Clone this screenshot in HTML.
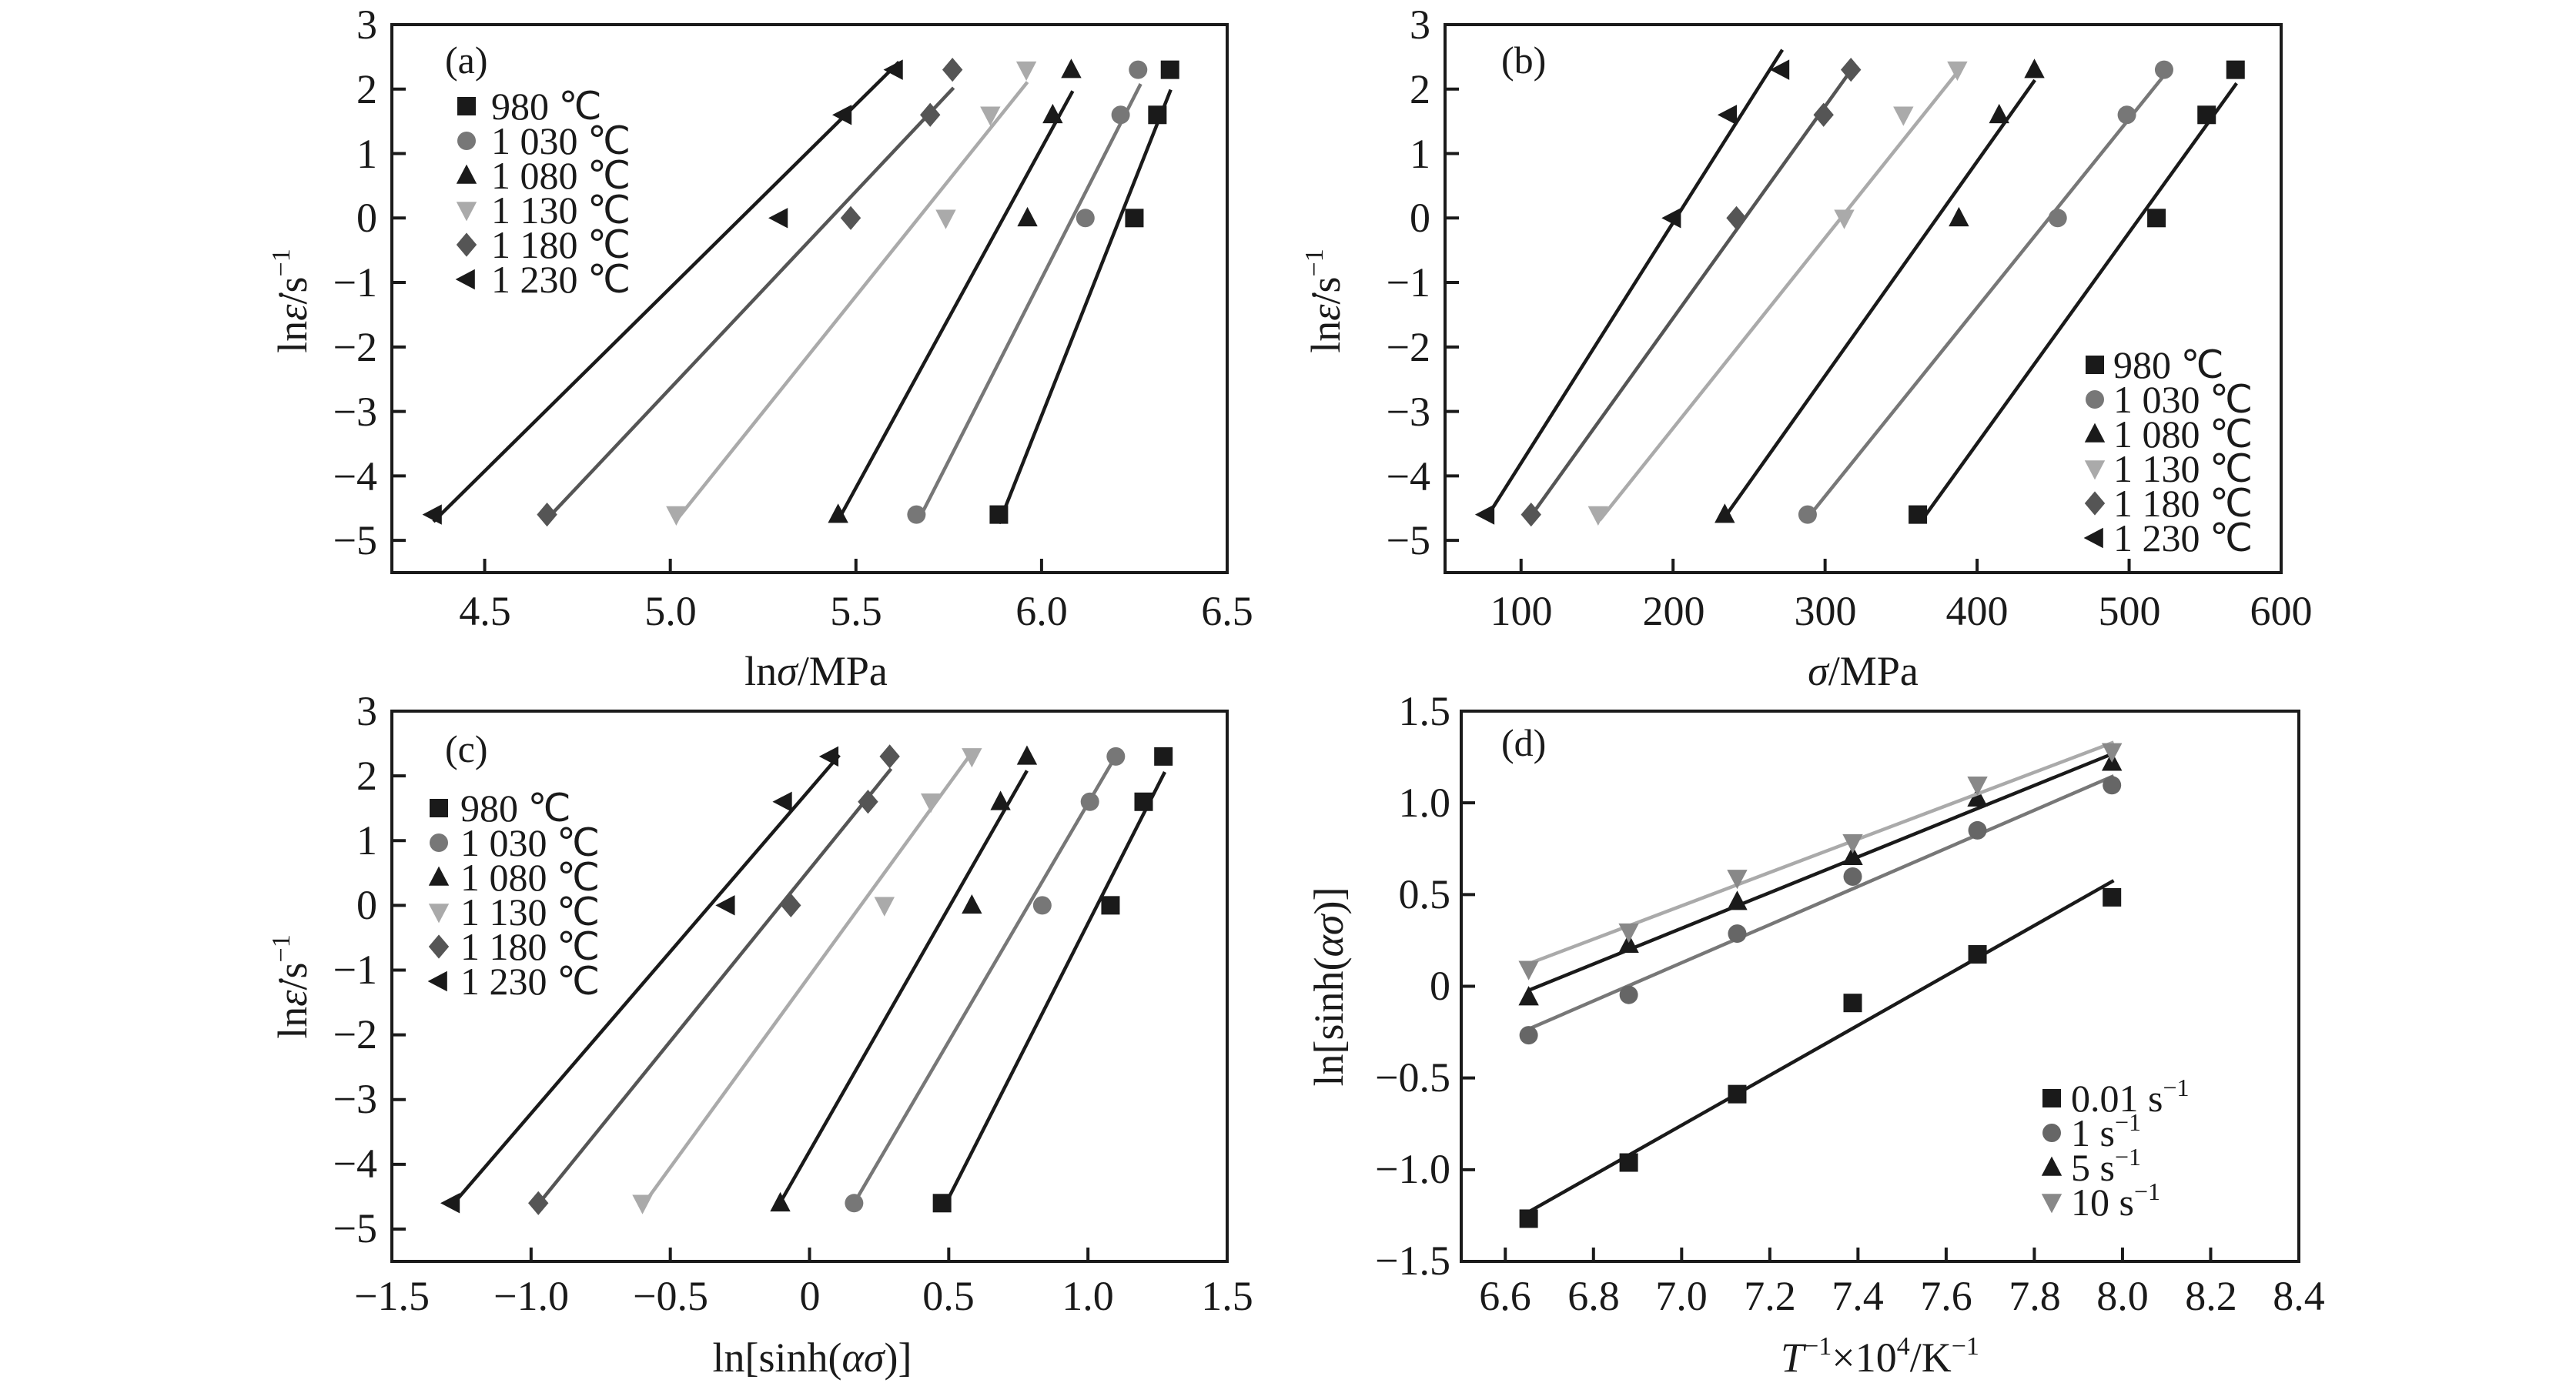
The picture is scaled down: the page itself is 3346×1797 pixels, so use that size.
<!DOCTYPE html>
<html><head><meta charset="utf-8"><style>
html,body{margin:0;padding:0;background:#fff}
svg{display:block}
text{font-family:"Liberation Serif",serif;fill:#1a1a1a}
.t{font-size:54px}
.l{font-size:50px}
.a{font-size:54px}
</style></head><body>
<svg id="s" width="3346" height="1797" viewBox="0 0 3346 1797" xmlns="http://www.w3.org/2000/svg">
<rect width="3346" height="1797" fill="#fff"/>
<g id="plots"></g>
<!-- Panel a text -->
<g class="t" text-anchor="end">
<text x="490" y="50">3</text><text x="490" y="134">2</text><text x="490" y="218">1</text><text x="490" y="301">0</text><text x="490" y="385">−1</text><text x="490" y="469">−2</text><text x="490" y="553">−3</text><text x="490" y="637">−4</text><text x="490" y="720">−5</text>
</g>
<g class="t" text-anchor="middle">
<text x="630" y="812">4.5</text><text x="871" y="812">5.0</text><text x="1112" y="812">5.5</text><text x="1353" y="812">6.0</text><text x="1594" y="812">6.5</text>
<text class="a" x="1060" y="890">ln<tspan font-style="italic">σ</tspan>/MPa</text>
</g>
<text class="a" transform="translate(398,391) rotate(-90)" text-anchor="middle">ln<tspan font-style="italic">ε̇</tspan>/s<tspan font-size="34" dy="-22">−1</tspan></text>
<text class="l" x="578" y="95">(a)</text>
<g class="l">
<text x="638" y="155">980 ℃</text><text x="638" y="200">1 030 ℃</text><text x="638" y="245">1 080 ℃</text><text x="638" y="290">1 130 ℃</text><text x="638" y="335">1 180 ℃</text><text x="638" y="380">1 230 ℃</text>
</g>
<!-- Panel b text -->
<g class="t" text-anchor="end">
<text x="1858" y="50">3</text><text x="1858" y="134">2</text><text x="1858" y="218">1</text><text x="1858" y="301">0</text><text x="1858" y="385">−1</text><text x="1858" y="469">−2</text><text x="1858" y="553">−3</text><text x="1858" y="637">−4</text><text x="1858" y="720">−5</text>
</g>
<g class="t" text-anchor="middle">
<text x="1976" y="812">100</text><text x="2174" y="812">200</text><text x="2371" y="812">300</text><text x="2568" y="812">400</text><text x="2766" y="812">500</text><text x="2963" y="812">600</text>
<text class="a" x="2420" y="890"><tspan font-style="italic">σ</tspan>/MPa</text>
</g>
<text class="a" transform="translate(1740,391) rotate(-90)" text-anchor="middle">ln<tspan font-style="italic">ε̇</tspan>/s<tspan font-size="34" dy="-22">−1</tspan></text>
<text class="l" x="1950" y="95">(b)</text>
<g class="l">
<text x="2745" y="491">980 ℃</text><text x="2745" y="536">1 030 ℃</text><text x="2745" y="581">1 080 ℃</text><text x="2745" y="626">1 130 ℃</text><text x="2745" y="671">1 180 ℃</text><text x="2745" y="716">1 230 ℃</text>
</g>
<!-- Panel c text -->
<g class="t" text-anchor="end">
<text x="490" y="942">3</text><text x="490" y="1026">2</text><text x="490" y="1110">1</text><text x="490" y="1194">0</text><text x="490" y="1278">−1</text><text x="490" y="1362">−2</text><text x="490" y="1446">−3</text><text x="490" y="1530">−4</text><text x="490" y="1614">−5</text>
</g>
<g class="t" text-anchor="middle">
<text x="509" y="1702">−1.5</text><text x="690" y="1702">−1.0</text><text x="871" y="1702">−0.5</text><text x="1052" y="1702">0</text><text x="1232" y="1702">0.5</text><text x="1413" y="1702">1.0</text><text x="1594" y="1702">1.5</text>
<text class="a" x="1055" y="1782">ln[sinh(<tspan font-style="italic">ασ</tspan>)]</text>
</g>
<text class="a" transform="translate(398,1282) rotate(-90)" text-anchor="middle">ln<tspan font-style="italic">ε̇</tspan>/s<tspan font-size="34" dy="-22">−1</tspan></text>
<text class="l" x="578" y="990">(c)</text>
<g class="l">
<text x="598" y="1067">980 ℃</text><text x="598" y="1112">1 030 ℃</text><text x="598" y="1157">1 080 ℃</text><text x="598" y="1202">1 130 ℃</text><text x="598" y="1247">1 180 ℃</text><text x="598" y="1292">1 230 ℃</text>
</g>
<!-- Panel d text -->
<g class="t" text-anchor="end">
<text x="1884" y="942">1.5</text><text x="1884" y="1061">1.0</text><text x="1884" y="1180">0.5</text><text x="1884" y="1299">0</text><text x="1884" y="1418">−0.5</text><text x="1884" y="1537">−1.0</text><text x="1884" y="1656">−1.5</text>
</g>
<g class="t" text-anchor="middle">
<text x="1955" y="1702">6.6</text><text x="2070" y="1702">6.8</text><text x="2184" y="1702">7.0</text><text x="2299" y="1702">7.2</text><text x="2413" y="1702">7.4</text><text x="2528" y="1702">7.6</text><text x="2643" y="1702">7.8</text><text x="2757" y="1702">8.0</text><text x="2872" y="1702">8.2</text><text x="2986" y="1702">8.4</text>
<text class="a" x="2442" y="1782"><tspan font-style="italic">T</tspan><tspan font-size="34" dy="-22">−1</tspan><tspan dy="22">×10</tspan><tspan font-size="34" dy="-22">4</tspan><tspan dy="22">/K</tspan><tspan font-size="34" dy="-22">−1</tspan></text>
</g>
<text class="a" transform="translate(1744,1282) rotate(-90)" text-anchor="middle">ln[sinh(<tspan font-style="italic">ασ</tspan>)]</text>
<text class="l" x="1950" y="982">(d)</text>
<g class="l">
<text x="2690" y="1444">0.01 s<tspan font-size="32" dy="-20">−1</tspan></text><text x="2690" y="1489">1 s<tspan font-size="32" dy="-20">−1</tspan></text><text x="2690" y="1534">5 s<tspan font-size="32" dy="-20">−1</tspan></text><text x="2690" y="1579">10 s<tspan font-size="32" dy="-20">−1</tspan></text>
</g>
</svg>
<script>
(function(){
var NS="http://www.w3.org/2000/svg",G=document.getElementById("plots");
function el(n,a){var e=document.createElementNS(NS,n);for(var k in a)e.setAttribute(k,a[k]);G.appendChild(e);return e;}
function marker(t,x,y,c,s){s=s||12;
 if(t=="sq")el("rect",{x:x-s,y:y-s,width:2*s,height:2*s,fill:c});
 else if(t=="ci")el("circle",{cx:x,cy:y,r:s,fill:c});
 else if(t=="up")el("polygon",{points:(x)+","+(y-s*1.2)+" "+(x-s*1.1)+","+(y+s*0.9)+" "+(x+s*1.1)+","+(y+s*0.9),fill:c});
 else if(t=="dn")el("polygon",{points:(x)+","+(y+s*1.2)+" "+(x-s*1.1)+","+(y-s*0.9)+" "+(x+s*1.1)+","+(y-s*0.9),fill:c});
 else if(t=="di")el("polygon",{points:x+","+(y-s*1.3)+" "+(x+s*1.1)+","+y+" "+x+","+(y+s*1.3)+" "+(x-s*1.1)+","+y,fill:c});
 else if(t=="le")el("polygon",{points:(x-s*1.2)+","+y+" "+(x+s*0.9)+","+(y-s*1.1)+" "+(x+s*0.9)+","+(y+s*1.1),fill:c});
}
function panel(P){
 var X=function(v){return P.px[0]+(v-P.x[0])/(P.x[1]-P.x[0])*(P.px[1]-P.px[0]);};
 var Y=function(v){return P.py[1]-(v-P.y[0])/(P.y[1]-P.y[0])*(P.py[1]-P.py[0]);};
 P.xt.forEach(function(v){var x=X(v);el("line",{x1:x,x2:x,y1:P.py[1],y2:P.py[1]-18,stroke:"#1a1a1a","stroke-width":4});});
 P.yt.forEach(function(v){var y=Y(v);el("line",{x1:P.px[0],x2:P.px[0]+18,y1:y,y2:y,stroke:"#1a1a1a","stroke-width":4});});
 P.s.forEach(function(s){
  el("line",{x1:X(s.l[0]),y1:Y(s.l[1]),x2:X(s.l[2]),y2:Y(s.l[3]),stroke:s.lc,"stroke-width":4.5});
  s.p.forEach(function(p){marker(s.m,X(p[0]),Y(p[1]),s.mc);});
 });
 el("rect",{x:P.px[0],y:P.py[0],width:P.px[1]-P.px[0],height:P.py[1]-P.py[0],fill:"none",stroke:"#1a1a1a","stroke-width":4});
 P.s.forEach(function(s,i){marker(s.m,P.lg[0],P.lg[1]+P.lg[2]*i,s.mc);});
}
var ys=[2.30,1.60,0,-4.6];
function mk(xs){return xs.map(function(x,i){return [x,ys[i]];});}
var M=["sq","ci","up","dn","di","le"],C=["#1a1a1a","#777","#1a1a1a","#aaa","#555","#1a1a1a"],LC=["#1a1a1a","#777","#1a1a1a","#aaa","#555","#1a1a1a"];
function ser(pts,lines){return pts.map(function(p,i){return {m:M[i],mc:C[i],lc:LC[i],p:mk(p),l:lines[i]};});}
var yt8=[-5,-4,-3,-2,-1,0,1,2,3];
panel({px:[509,1594],py:[32,744],x:[4.25,6.5],y:[-5.5,3],xt:[4.5,5,5.5,6,6.5],yt:yt8,lg:[606,138,45],
 s:ser([[6.346,6.312,6.25,5.885],[6.26,6.213,6.118,5.663],[6.08,6.03,5.962,5.452],[5.959,5.862,5.742,5.016],[5.76,5.70,5.486,4.668],[5.604,5.466,5.294,4.362]],
 [[5.885,-4.74,6.348,1.99],[5.67,-4.67,6.267,2.08],[5.452,-4.69,6.084,1.97],[5.016,-4.69,5.962,2.11],[4.668,-4.67,5.763,2.02],[4.362,-4.71,5.616,2.42]])});
panel({px:[1877,2963],py:[32,744],x:[50,600],y:[-5.5,3],xt:[100,200,300,400,500,600],yt:yt8,lg:[2721,474,45],
 s:ser([[570,551,518,361],[523,498.5,453,288.5],[437.7,414.5,388,234],[387,351.5,312.6,150.7],[317,299,241.7,106.6],[271,236.5,199.7,77]],
 [[363.3,-4.7,570.7,2.09],[290.3,-4.6,522.6,2.2],[234,-4.64,438,2.14],[151.6,-4.69,390,2.35],[106.6,-4.62,317,2.29],[79.4,-4.57,271.9,2.61]])});
panel({px:[509,1594],py:[924,1639],x:[-1.5,1.5],y:[-5.5,3],xt:[-1,-0.5,0,0.5,1],yt:yt8,lg:[570,1050,45],
 s:ser([[1.271,1.2,1.081,0.476],[1.1,1.007,0.836,0.16],[0.781,0.686,0.583,-0.105],[0.583,0.436,0.269,-0.6],[0.288,0.21,-0.067,-0.974],[0.074,-0.093,-0.298,-1.286]],
 [[0.476,-4.72,1.276,2.06],[0.167,-4.55,1.107,2.36],[-0.105,-4.59,0.781,2.08],[-0.6,-4.64,0.583,2.36],[-0.969,-4.59,0.293,2.11],[-1.267,-4.55,0.107,2.32]])});
var dx=[6.653,6.88,7.126,7.388,7.671,7.976];
function dp(a){return a.map(function(v,i){return [dx[i],v];});}
panel({px:[1898,2986],py:[924,1639],x:[6.5,8.4],y:[-1.5,1.5],xt:[6.6,6.8,7.0,7.2,7.4,7.6,7.8,8.0,8.2],yt:[-1,-0.5,0,0.5,1],lg:[2665,1427,45],
 s:[{m:"sq",mc:"#1a1a1a",lc:"#1a1a1a",p:dp([-1.267,-0.961,-0.588,-0.091,0.174,0.485]),l:[6.653,-1.23,7.98,0.576]},
    {m:"ci",mc:"#666",lc:"#777",p:dp([-0.267,-0.047,0.287,0.598,0.85,1.096]),l:[6.653,-0.233,7.98,1.147]},
    {m:"up",mc:"#1a1a1a",lc:"#1a1a1a",p:dp([-0.059,0.228,0.461,0.706,1.025,1.22]),l:[6.653,-0.022,7.98,1.27]},
    {m:"dn",mc:"#888",lc:"#aaa",p:dp([0.093,0.297,0.59,0.784,1.098,1.28]),l:[6.653,0.123,7.98,1.33]}]});
})();
</script>
</body></html>
